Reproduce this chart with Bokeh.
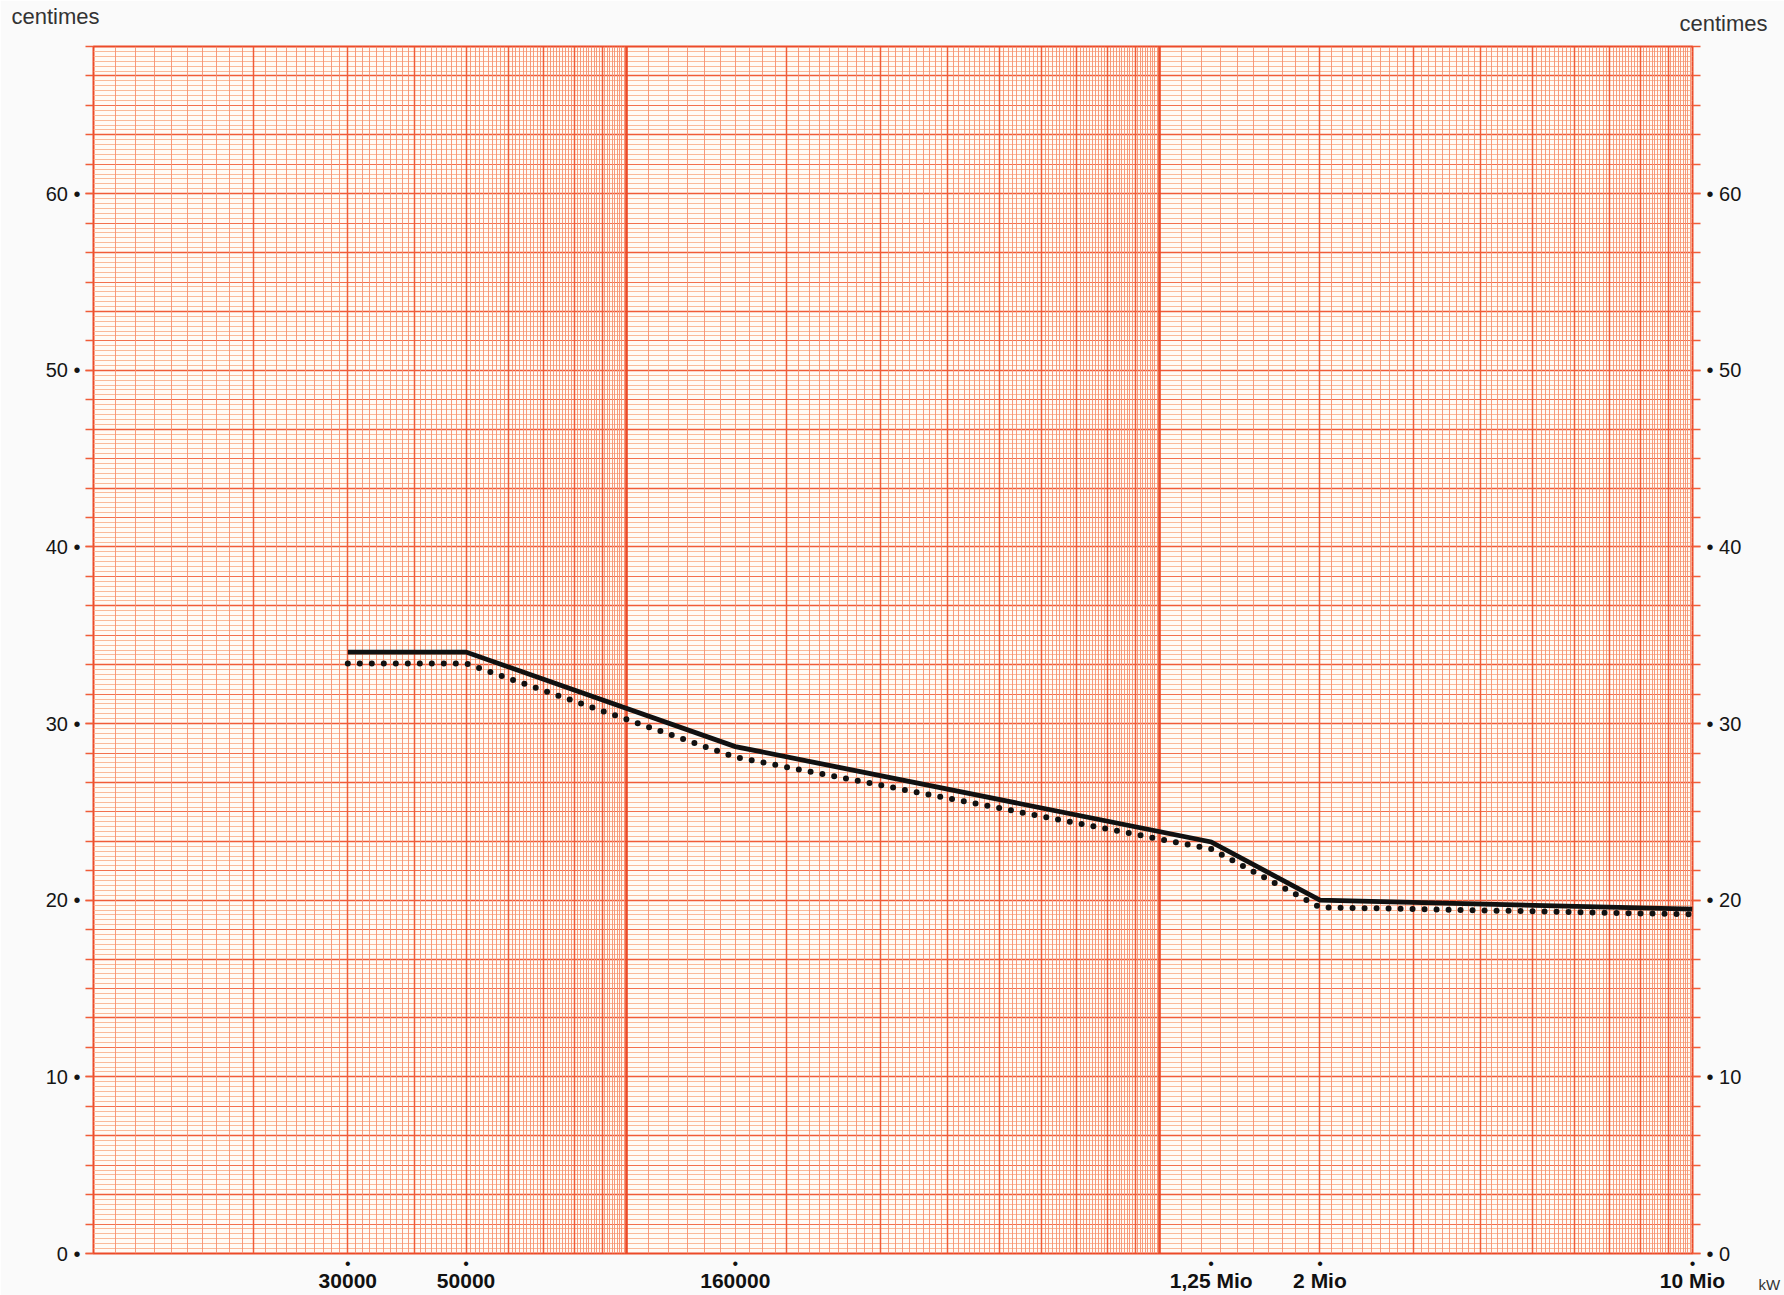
import numpy as np
from bokeh.plotting import figure
from bokeh.models import Grid, FixedTicker, LinearAxis, Range1d
from bokeh.core.properties import value
from bokeh.embed import file_html
from bokeh.resources import INLINE

# Tariff curves: centimes per kWh against consumption (kW)
consumption_kw = [30000, 50000, 160000, 1250000, 2000000, 10000000]
price_solid = [34.05, 34.05, 28.7, 23.3, 20.0, 19.5]
price_dotted = [33.4, 33.4, 28.1, 22.9, 19.6, 19.2]

x_tick_values = [30000, 50000, 160000, 1250000, 2000000, 10000000]
x_tick_labels = ["30000", "50000", "160000", "1,25 Mio", "2 Mio", "10 Mio"]
y_tick_values = [0, 10, 20, 30, 40, 50, 60]

X_MIN, X_MAX = 1e4, 1e7
Y_STEP = 5 / 3           # spacing of the ruled lines that carry side ticks
Y_MAX = 41 * Y_STEP

THICK = "#ec4a28"
MEDIUM = "#f05c38"
MEDIUM_H = "#f2714e"
FINE_V = "#f6906f"
FINE_H = "#f9b28e"

p = figure(
    width=1784, height=1295,
    x_axis_type="log",
    x_range=Range1d(X_MIN, X_MAX), y_range=Range1d(0, Y_MAX),
    x_axis_location=None, y_axis_location=None,
    output_backend="svg", toolbar_location=None,
    min_border_left=93, min_border_right=92, min_border_top=46, min_border_bottom=42,
    background_fill_color="#fffbf6", border_fill_color="#fafafa",
    outline_line_color=THICK, outline_line_width=2,
)
p.grid.visible = False

# --- semi-log graph paper -------------------------------------------------
decades = [10.0 ** k for k in range(4, 8)]
integers = [m * 10.0 ** k for k in range(4, 7) for m in range(2, 10)]
tenths = [j / 10 * 10.0 ** k for k in range(4, 7) for j in range(11, 100) if j % 10]

h_thick = [i * 2 * Y_STEP for i in range(21)]
h_medium = [(2 * i + 1) * Y_STEP for i in range(21)]
h_fine = [i * Y_STEP / 6 for i in range(41 * 6) if i % 6]

for ticks, color, width in [(h_fine, FINE_H, 0.9), (h_medium, MEDIUM_H, 1.1), (h_thick, MEDIUM, 1.5)]:
    p.add_layout(Grid(dimension=1, ticker=FixedTicker(ticks=ticks),
                      grid_line_color=color, grid_line_width=width))
for ticks, color, width in [(tenths, FINE_V, 0.9), (integers, MEDIUM, 1.5), (decades, THICK, 2.6)]:
    p.add_layout(Grid(dimension=0, ticker=FixedTicker(ticks=ticks),
                      grid_line_color=color, grid_line_width=width))

# --- curves ---------------------------------------------------------------
p.line(consumption_kw, price_solid, line_color="#111111", line_width=4.8, line_join="miter")
p.line(consumption_kw, price_dotted, line_color="#111111", line_width=6,
       line_dash="0 12", line_cap="round", line_join="round")

# --- side axes ------------------------------------------------------------
side_minor = [i * Y_STEP for i in range(42)]

def side_axis(fmt, standoff):
    return LinearAxis(
        ticker=FixedTicker(ticks=y_tick_values, minor_ticks=side_minor),
        major_label_overrides={v: fmt.format(v) for v in y_tick_values},
        axis_line_color=None,
        major_tick_line_color=MEDIUM, major_tick_in=0, major_tick_out=8, major_tick_line_width=1.4,
        minor_tick_line_color=MEDIUM, minor_tick_in=0, minor_tick_out=8, minor_tick_line_width=1.4,
        major_label_standoff=standoff,
        major_label_text_font="Liberation Sans", major_label_text_font_size="20px",
        major_label_text_color="#151515",
    )

p.add_layout(side_axis("{} \u2022", 5), "left")
p.add_layout(side_axis("\u2022 {}", 6), "right")

# --- consumption labels under the paper -----------------------------------
p.text(x=x_tick_values, y=0, text=["\u2022"] * len(x_tick_values),
       text_align="center", text_baseline="middle", y_offset=10,
       text_font=value("Liberation Sans"), text_font_size="16px", text_color="#111111",
       level="overlay")
p.text(x=x_tick_values, y=0, text=x_tick_labels,
       text_align="center", text_baseline="middle", y_offset=27,
       text_font=value("Liberation Sans"), text_font_style="bold",
       text_font_size="21px", text_color="#111111", level="overlay")

# --- unit captions --------------------------------------------------------
caption = dict(text_font=value("Liberation Sans"), text_color="#333333", level="overlay")
p.text(x=[7015], y=[70.72], text=["centimes"], text_font_size="22px",
       text_baseline="top", **caption)
p.text(x=[9.45e6], y=[70.33], text=["centimes"], text_font_size="22px",
       text_baseline="top", **caption)
p.text(x=[1.33e7], y=[-1.75], text=["kW"], text_font_size="15px",
       text_baseline="middle", **caption)

open("out.html", "w").write(file_html(p, INLINE))
